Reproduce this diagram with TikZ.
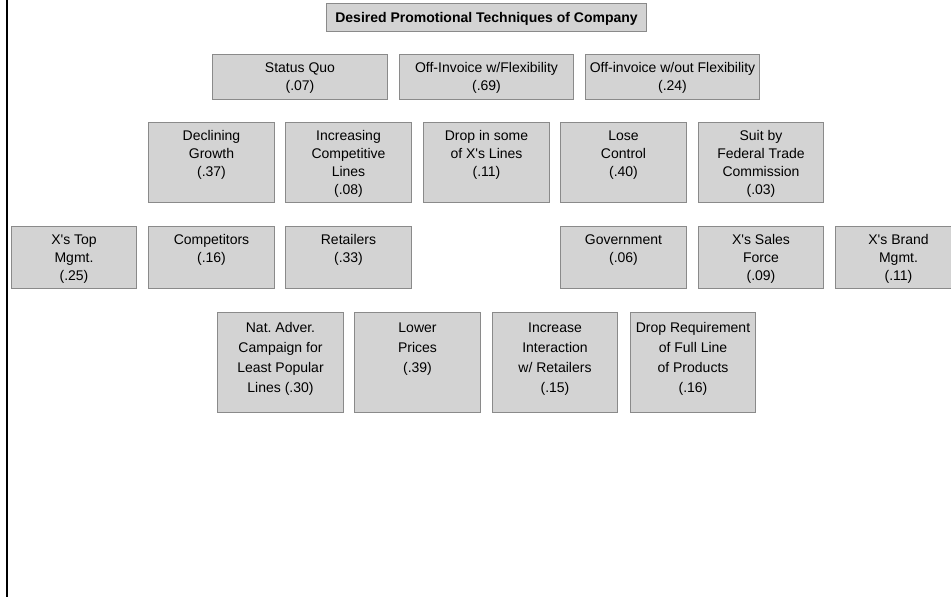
\documentclass[tikz,border=0pt]{standalone}
\usepackage{fontspec}
\setmainfont{Liberation Sans}[Ligatures=TeXOff]
\definecolor{boxfill}{HTML}{D3D3D3}
\definecolor{boxedge}{HTML}{8A8A8A}
% body of a box: width, height, first-baseline drop, line pitch, text (top aligned, centred)
\newcommand\cellbody[5]{\parbox[t][#2][t]{#1}{\centering\fontsize{14}{#4}\selectfont\rule{0pt}{#3}#5}}
% box with its top-left corner at (x1,y1) and bottom-right corner at (x2,y2)
\newcommand\cellnode[7][18pt]{%
  \pgfmathsetmacro\cw{#5-#3}\pgfmathsetmacro\ch{#6-#4}%
  \node[cellbox] (#2) at (#3,#4) {\cellbody{\cw pt}{\ch pt}{#1}{18pt}{#7}};}
\newcommand\widenode[7][20pt]{%
  \pgfmathsetmacro\cw{#5-#3}\pgfmathsetmacro\ch{#6-#4}%
  \node[cellbox] (#2) at (#3,#4) {\cellbody{\cw pt}{\ch pt}{#1}{20pt}{#7}};}
\begin{document}
\begin{tikzpicture}[x=1pt,y=-1pt,
  cellbox/.style={draw=boxedge, fill=boxfill, line width=1pt, inner sep=0pt, anchor=north west}]
\useasboundingbox (0,0) rectangle (951,597);
\clip (0,0) rectangle (951,597);
% left rule
\draw[line width=2.2pt] (7,0) -- (7,597);
% goal
\cellnode[19pt]{goal}{326}{3}{646}{31}{\textbf{Desired Promotional Techniques of Company}}
% alternatives
\cellnode{sq}{212}{54}{387}{99}{Status Quo\\(.07)}
\cellnode{ofw}{399}{54}{573}{99}{Off-Invoice w/Flexibility\\(.69)}
\cellnode{ofwo}{585}{54}{759}{99}{Off-invoice w/out Flexibility\\(.24)}
% scenarios
\cellnode{decl}{148}{122}{274}{202}{Declining\\Growth\\(.37)}
\cellnode{incr}{285}{122}{411}{202}{Increasing\\Competitive\\Lines\\(.08)}
\cellnode{drop}{423}{122}{549}{202}{Drop in some\\of X's Lines\\(.11)}
\cellnode{lose}{560}{122}{686}{202}{Lose\\Control\\(.40)}
\cellnode{suit}{698}{122}{823}{202}{Suit by\\Federal Trade\\Commission\\(.03)}
% actors
\cellnode{top}{11}{226}{136}{288}{X's Top\\Mgmt.\\(.25)}
\cellnode{comp}{148}{226}{274}{288}{Competitors\\(.16)}
\cellnode{ret}{285}{226}{411}{288}{Retailers\\(.33)}
\cellnode{gov}{560}{226}{686}{288}{Government\\(.06)}
\cellnode{sales}{698}{226}{823}{288}{X's Sales\\Force\\(.09)}
\cellnode{brand}{835}{226}{961}{288}{X's Brand\\Mgmt.\\(.11)}
% policies
\widenode{nat}{217}{312}{343}{412}{Nat.\ Adver.\\Campaign for\\Least Popular\\Lines (.30)}
\widenode{lower}{354}{312}{480}{412}{Lower\\Prices\\(.39)}
\widenode{inter}{492}{312}{617}{412}{Increase\\Interaction\\w/ Retailers\\(.15)}
\widenode{dropreq}{630}{312}{755}{412}{Drop Requirement\\of Full Line\\of Products\\(.16)}
\end{tikzpicture}
\end{document}
